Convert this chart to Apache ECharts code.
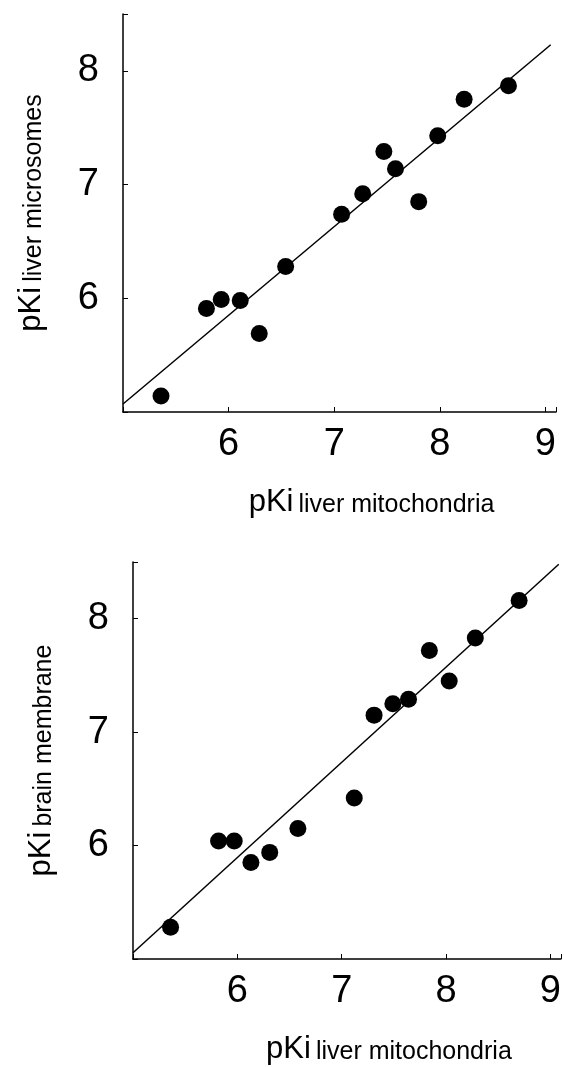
<!DOCTYPE html>
<html>
<head>
<meta charset="utf-8">
<script src="https://cdn.jsdelivr.net/npm/echarts@6/dist/echarts.min.js"></script>
<style>
  html, body { margin: 0; padding: 0; background: #fff; }
  #main { width: 564px; height: 1067px; }
</style>
</head>
<body>
<div id="main"></div>
<script>
// top panel: liver mitochondria vs liver microsomes
var mitoTop = [5.36, 5.79, 5.93, 6.11, 6.29, 6.54, 7.07, 7.27, 7.47, 7.58, 7.80, 7.98, 8.23, 8.65];
var microsomes = [5.14, 5.91, 5.99, 5.98, 5.69, 6.28, 6.74, 6.92, 7.29, 7.14, 6.85, 7.43, 7.75, 7.87];
var fitTopX = [5.0, 9.05];
var fitTopY = [5.07, 8.23];

// bottom panel: liver mitochondria vs brain membrane
var mitoBottom = [5.36, 5.82, 5.97, 6.13, 6.31, 6.58, 7.12, 7.31, 7.49, 7.64, 7.84, 8.03, 8.28, 8.70];
var brain = [5.28, 6.04, 6.04, 5.85, 5.94, 6.15, 6.42, 7.15, 7.25, 7.29, 7.72, 7.45, 7.83, 8.16];
var fitBotX = [5.0, 9.08];
var fitBotY = [5.055, 8.48];

var xTicks = [6, 7, 8, 9];
var yTicks = [6, 7, 8];

function pairs(xs, ys) {
  return xs.map(function (x, i) { return [x, ys[i]]; });
}

var font = 'Liberation Sans, Arial, sans-serif';
var nameRich = {
  p: { fontSize: 31, lineHeight: 30, verticalAlign: 'bottom', color: '#000', fontFamily: font },
  s: { fontSize: 25, lineHeight: 19, verticalAlign: 'bottom', color: '#000', fontFamily: font, padding: [0, 0, 0, 5] }
};

function xAx(idx, namePad) {
  return {
    gridIndex: idx, type: 'value', min: 5, max: 9.1, interval: 1,
    name: '{p|pKi}{s|liver mitochondria}',
    nameLocation: 'middle', nameGap: 76,
    nameTextStyle: { rich: nameRich, padding: [0, 0, 0, namePad] },
    axisLine: { onZero: false, lineStyle: { color: '#000', width: 1.5 } },
    axisTick: { inside: true, length: 5, lineStyle: { color: '#000' } },
    axisLabel: {
      fontSize: 38, color: '#000', fontFamily: font, margin: 14,
      formatter: function (v) { return xTicks.indexOf(v) >= 0 ? String(v) : ''; }
    },
    splitLine: { show: false }
  };
}

function yAx(idx, sub) {
  return {
    gridIndex: idx, type: 'value', min: 5, max: 8.5, interval: 1,
    name: '{p|pKi}{s|' + sub + '}',
    nameLocation: 'middle', nameGap: 76, nameRotate: 90,
    nameTextStyle: { rich: nameRich },
    axisLine: { onZero: false, lineStyle: { color: '#000', width: 1.5 } },
    axisTick: { inside: true, length: 5, lineStyle: { color: '#000' } },
    axisLabel: {
      fontSize: 38, color: '#000', fontFamily: font, margin: 24,
      formatter: function (v) { return yTicks.indexOf(v) >= 0 ? String(v) : ''; }
    },
    splitLine: { show: false }
  };
}

var chart = echarts.init(document.getElementById('main'));
chart.setOption({
  animation: false,
  backgroundColor: '#fff',
  grid: [
    { left: 123, top: 14, width: 433, height: 398 },
    { left: 133, top: 562, width: 431, height: 397 }
  ],
  xAxis: [xAx(0, 64), xAx(1, 84)],
  yAxis: [yAx(0, 'liver microsomes'), yAx(1, 'brain membrane')],
  series: [
    {
      type: 'line', xAxisIndex: 0, yAxisIndex: 0, data: pairs(fitTopX, fitTopY),
      symbol: 'none', lineStyle: { color: '#000', width: 1.5 }
    },
    {
      type: 'scatter', xAxisIndex: 0, yAxisIndex: 0, data: pairs(mitoTop, microsomes),
      symbolSize: 17, itemStyle: { color: '#000', opacity: 1 }
    },
    {
      type: 'line', xAxisIndex: 1, yAxisIndex: 1, data: pairs(fitBotX, fitBotY),
      symbol: 'none', lineStyle: { color: '#000', width: 1.5 }
    },
    {
      type: 'scatter', xAxisIndex: 1, yAxisIndex: 1, data: pairs(mitoBottom, brain),
      symbolSize: 17, itemStyle: { color: '#000', opacity: 1 }
    }
  ]
});
</script>
</body>
</html>
